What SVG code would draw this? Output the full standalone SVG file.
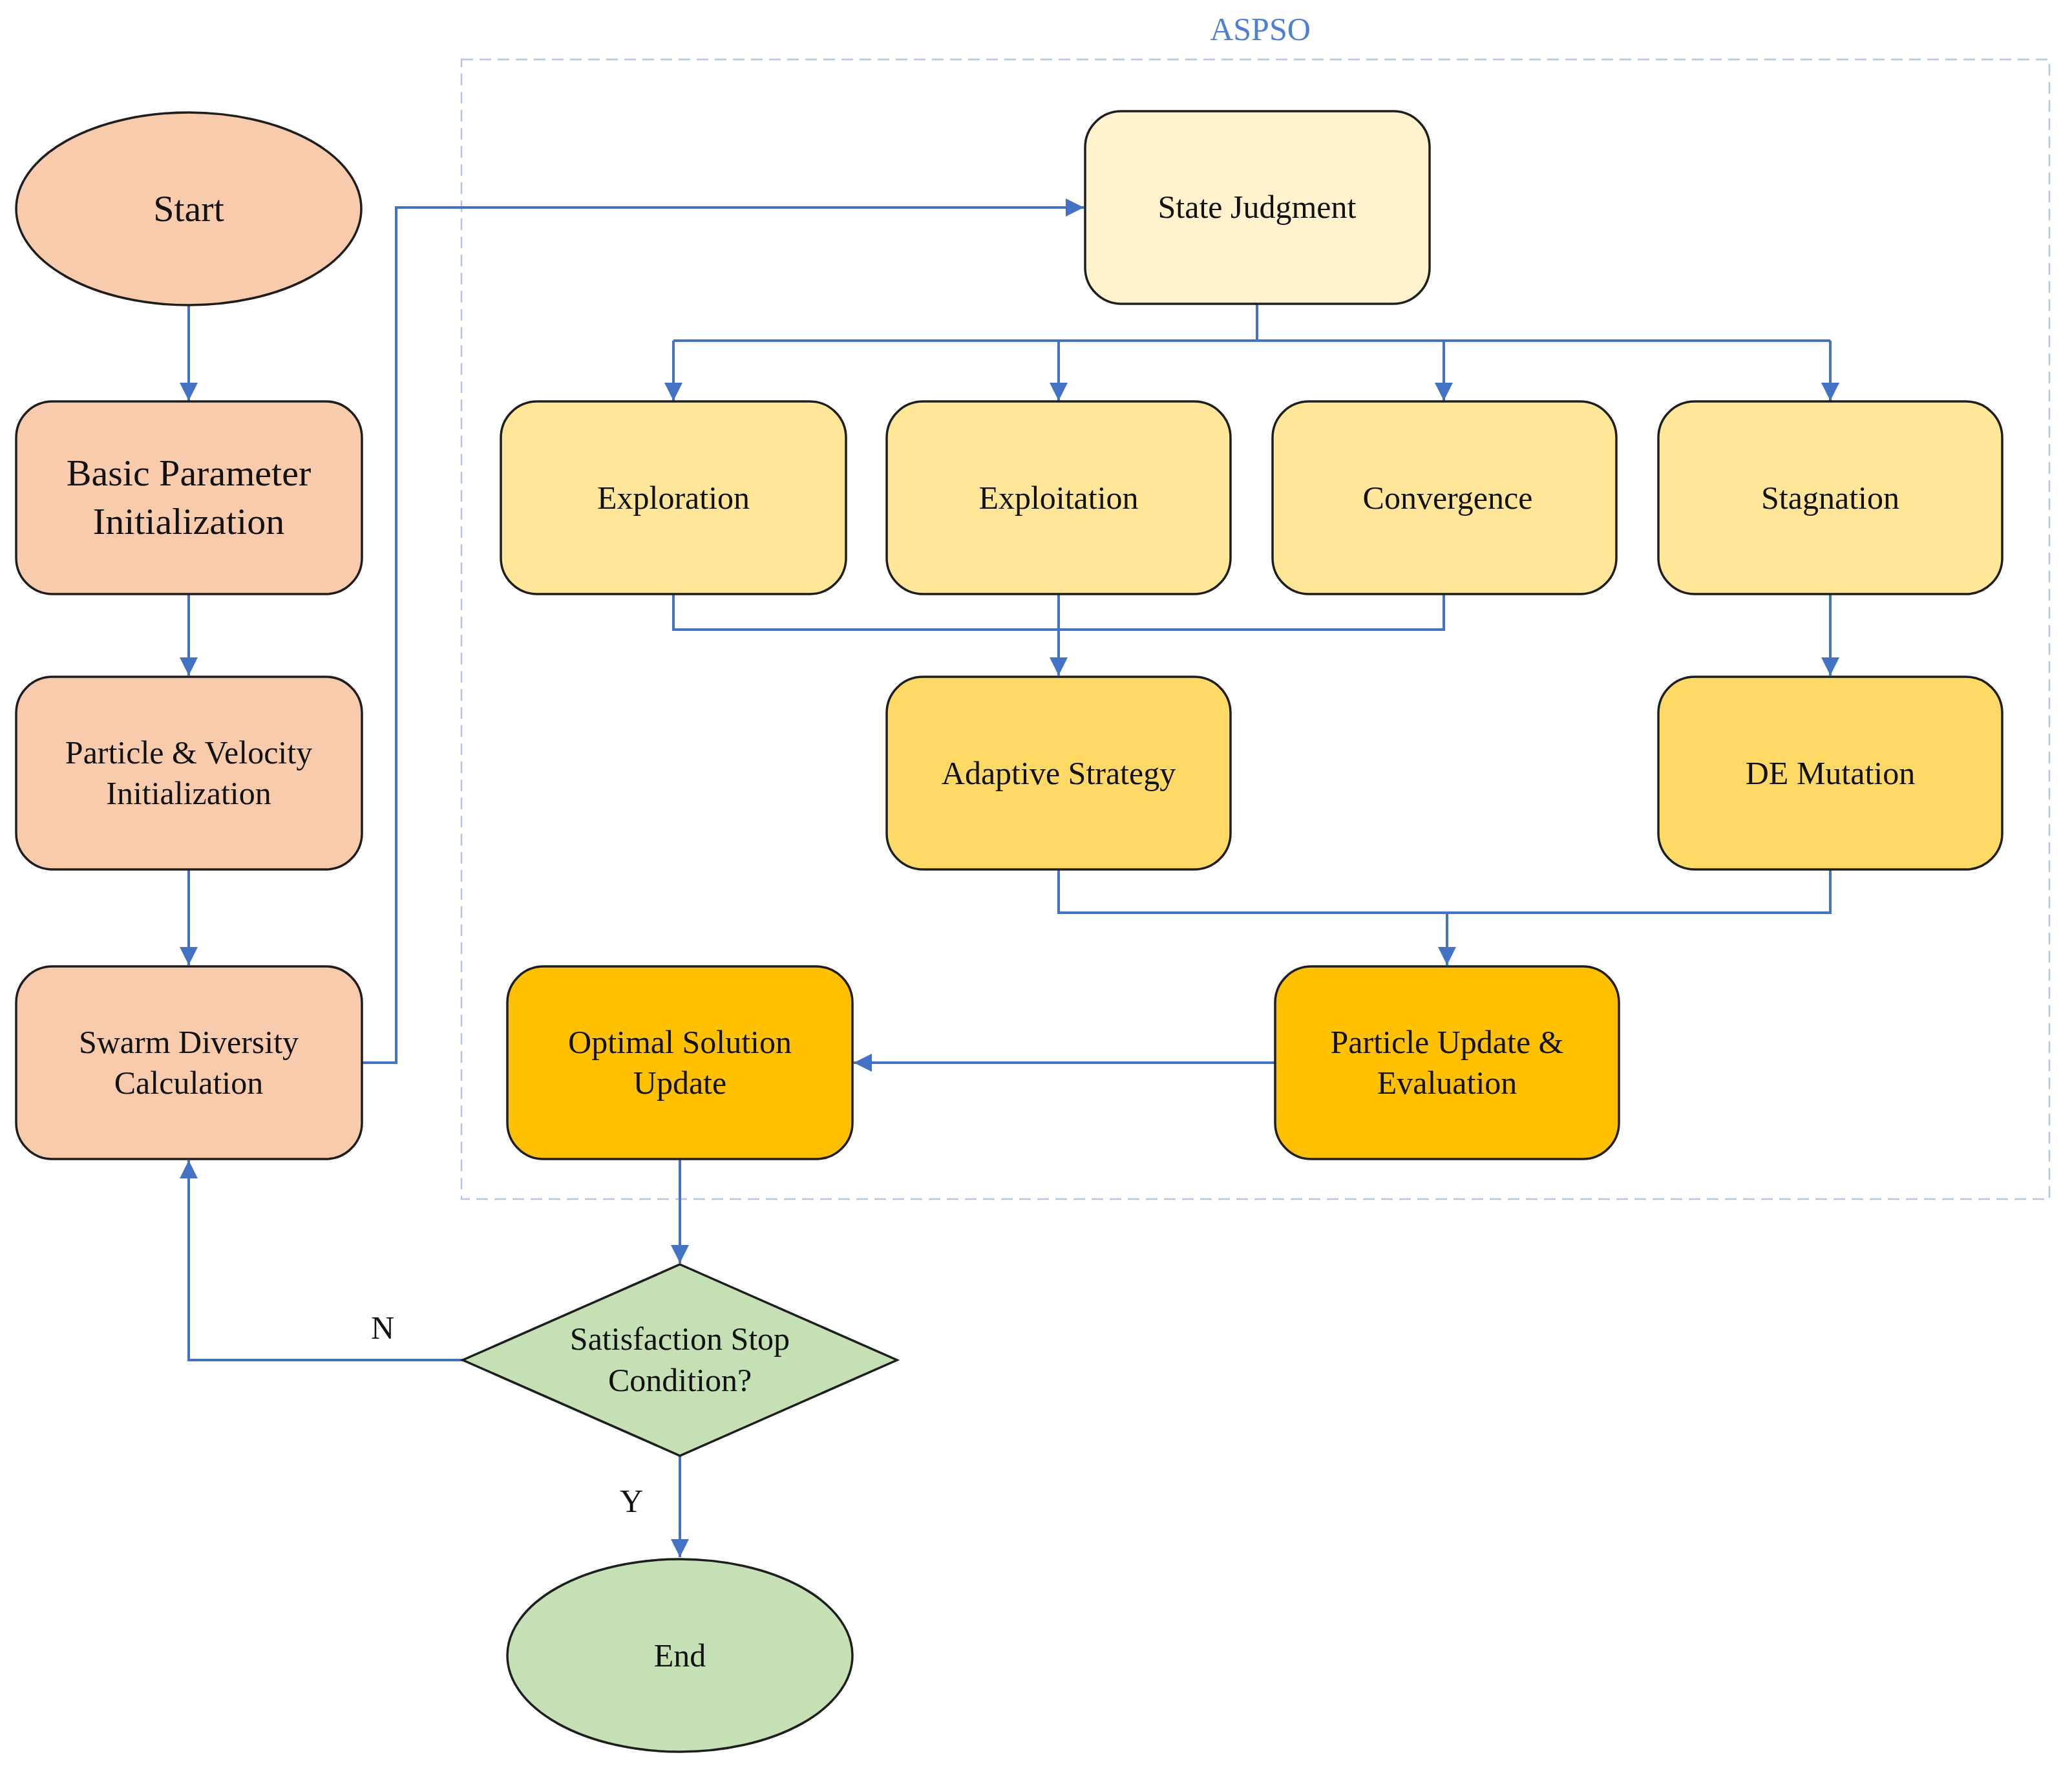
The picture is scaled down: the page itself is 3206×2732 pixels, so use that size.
<svg xmlns="http://www.w3.org/2000/svg" width="3206" height="2732" viewBox="0 0 3206 2732">
<style>
.n{stroke:#1e1e1e;stroke-width:3.5}
.peach{fill:#f8cbad}
.lt{fill:#fff2cc}
.y1{fill:#ffe699}
.y2{fill:#ffd966}
.y3{fill:#ffc000}
.gr{fill:#c5e0b4}
text{font-family:"Liberation Serif","Times New Roman",serif;fill:#111;text-anchor:middle}
.t50{font-size:50px}
.t58{font-size:58px}
.c{fill:none;stroke:#4472c4;stroke-width:4;marker-end:url(#ah)}
.cn{fill:none;stroke:#4472c4;stroke-width:4}
</style>
<defs>
<marker id="ah" markerUnits="userSpaceOnUse" markerWidth="30" markerHeight="30" refX="28" refY="14" orient="auto">
<path d="M0,0 L28,14 L0,28 z" fill="#4472c4"/>
</marker>
</defs>
<rect width="3206" height="2732" fill="#ffffff"/>
<g id="aspso">
<rect x="714" y="92" width="2457" height="1763" fill="none" stroke="#b4c7e7" stroke-width="2.5" stroke-dasharray="18 10"/>
<text x="1950" y="62" style="font-size:50px;fill:#4f7fd1">ASPSO</text>
</g>
<g id="connectors">
<path class="c" d="M292,472 L292,620"/>
<path class="c" d="M292,920 L292,1045"/>
<path class="c" d="M292,1345 L292,1493"/>
<path class="c" d="M560,1644 L613,1644 L613,321 L1677,321"/>
<path class="cn" d="M1945,471 L1945,527"/>
<path class="cn" d="M1042,527 L2832,527"/>
<path class="c" d="M1042,527 L1042,620"/>
<path class="c" d="M1638,527 L1638,620"/>
<path class="c" d="M2234,527 L2234,620"/>
<path class="c" d="M2832,527 L2832,620"/>
<path class="cn" d="M1042,920 L1042,974 L2234,974 L2234,920"/>
<path class="c" d="M1638,920 L1638,1045"/>
<path class="c" d="M2832,920 L2832,1045"/>
<path class="cn" d="M1638,1345 L1638,1412 L2832,1412 L2832,1345"/>
<path class="c" d="M2239,1412 L2239,1493"/>
<path class="c" d="M1973,1644 L1321,1644"/>
<path class="c" d="M1052,1793 L1052,1954"/>
<path class="c" d="M716,2104 L292,2104 L292,1795"/>
<path class="c" d="M1052,2252 L1052,2409"/>
<text class="t50" x="592" y="2071">N</text>
<text class="t50" x="977" y="2339">Y</text>
</g>
<g id="start">
<ellipse class="n peach" cx="292" cy="323" rx="267" ry="149"/>
<text class="t58" x="292" y="342">Start</text>
</g>
<g id="basic">
<rect class="n peach" x="25" y="621" width="535" height="298" rx="56"/>
<text class="t58" x="292" y="751">Basic Parameter</text>
<text class="t58" x="292" y="826">Initialization</text>
</g>
<g id="particle-init">
<rect class="n peach" x="25" y="1047" width="535" height="298" rx="56"/>
<text class="t50" x="292" y="1181">Particle &amp; Velocity</text>
<text class="t50" x="292" y="1244">Initialization</text>
</g>
<g id="swarm">
<rect class="n peach" x="25" y="1495" width="535" height="298" rx="56"/>
<text class="t50" x="292" y="1629">Swarm Diversity</text>
<text class="t50" x="292" y="1692">Calculation</text>
</g>
<g id="state">
<rect class="n lt" x="1679" y="172" width="533" height="298" rx="56"/>
<text class="t50" x="1945" y="337">State Judgment</text>
</g>
<g id="exploration">
<rect class="n y1" x="775" y="621" width="534" height="298" rx="56"/>
<text class="t50" x="1042" y="787">Exploration</text>
</g>
<g id="exploitation">
<rect class="n y1" x="1372" y="621" width="532" height="298" rx="56"/>
<text class="t50" x="1638" y="787">Exploitation</text>
</g>
<g id="convergence">
<rect class="n y1" x="1969" y="621" width="532" height="298" rx="56"/>
<text class="t50" x="2240" y="787">Convergence</text>
</g>
<g id="stagnation">
<rect class="n y1" x="2566" y="621" width="532" height="298" rx="56"/>
<text class="t50" x="2832" y="787">Stagnation</text>
</g>
<g id="adaptive">
<rect class="n y2" x="1372" y="1047" width="532" height="298" rx="56"/>
<text class="t50" x="1638" y="1213">Adaptive Strategy</text>
</g>
<g id="de">
<rect class="n y2" x="2566" y="1047" width="532" height="298" rx="56"/>
<text class="t50" x="2832" y="1213">DE Mutation</text>
</g>
<g id="optimal">
<rect class="n y3" x="785" y="1495" width="534" height="298" rx="56"/>
<text class="t50" x="1052" y="1629">Optimal Solution</text>
<text class="t50" x="1052" y="1692">Update</text>
</g>
<g id="update">
<rect class="n y3" x="1973" y="1495" width="532" height="298" rx="56"/>
<text class="t50" x="2239" y="1629">Particle Update &amp;</text>
<text class="t50" x="2239" y="1692">Evaluation</text>
</g>
<g id="decision">
<polygon class="n gr" points="1052,1956 1388,2104 1052,2252 716,2104"/>
<text class="t50" x="1052" y="2088">Satisfaction Stop</text>
<text class="t50" x="1052" y="2152">Condition?</text>
</g>
<g id="end">
<ellipse class="n gr" cx="1052" cy="2561" rx="267" ry="149"/>
<text class="t50" x="1052" y="2578">End</text>
</g>
</svg>
